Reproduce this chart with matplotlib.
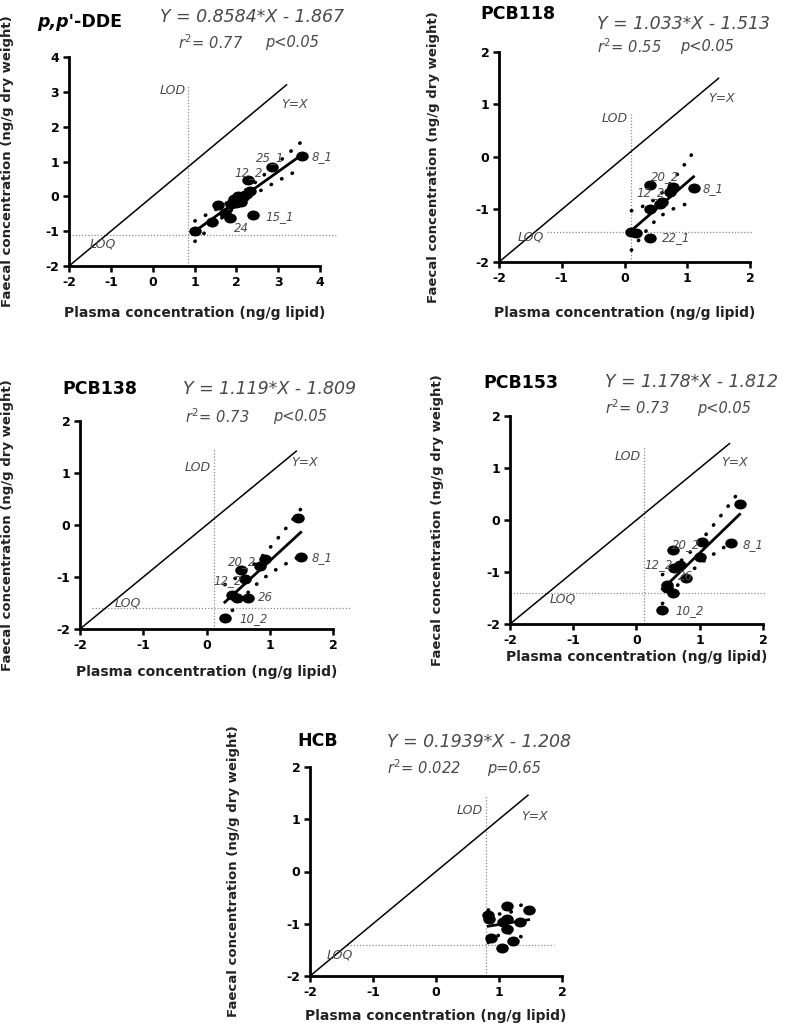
import numpy as np
import matplotlib
matplotlib.use("Agg")
import matplotlib.pyplot as plt
from matplotlib.path import Path
from matplotlib.transforms import Affine2D

plt.rcParams["axes.unicode_minus"] = False

# ---------------- data ----------------
dde_x = [3.58, 2.86, 2.29, 2.33, 1.95, 2.05, 2.15, 2.00, 2.12, 1.88, 2.20, 1.57, 1.73, 1.85, 2.41, 1.41, 1.01]
dde_y = [1.16, 0.83, 0.47, 0.16, -0.08, 0.02, -0.02, -0.20, -0.15, -0.22, 0.05, -0.25, -0.47, -0.63, -0.54, -0.73, -1.00]

pcb118_x = [1.10, 0.41, 0.77, 0.73, 0.60, 0.57, 0.40, 0.11, 0.19, 0.41]
pcb118_y = [-0.60, -0.53, -0.57, -0.66, -0.85, -0.90, -1.00, -1.42, -1.45, -1.55]

pcb138_x = [1.45, 1.49, 0.92, 0.85, 0.54, 0.61, 0.40, 0.48, 0.65, 0.29]
pcb138_y = [0.13, -0.62, -0.66, -0.79, -0.87, -1.03, -1.35, -1.41, -1.40, -1.79]

pcb153_x = [1.63, 1.49, 1.03, 0.58, 1.00, 0.69, 0.60, 0.79, 0.48, 0.48, 0.57, 0.41]
pcb153_y = [0.31, -0.45, -0.42, -0.58, -0.71, -0.87, -0.93, -1.12, -1.25, -1.31, -1.40, -1.74]

hcb_x = [0.83, 1.12, 1.47, 1.12, 1.07, 1.33, 1.13, 0.88, 1.22, 1.05, 0.84]
hcb_y = [-0.83, -0.66, -0.74, -0.90, -0.96, -0.96, -1.11, -1.27, -1.33, -1.46, -0.90]

compounds = ["p,p'-DDE", "PCB118", "PCB138", "PCB153", "HCB"]
slopes = [0.8584, 1.033, 1.119, 1.178, 0.1939]
intercepts = [-1.867, -1.513, -1.809, -1.812, -1.208]
equations = ["Y = 0.8584*X - 1.867", "Y = 1.033*X - 1.513", "Y = 1.119*X - 1.809",
             "Y = 1.178*X - 1.812", "Y = 0.1939*X - 1.208"]
r2_texts = ["$r^2$= 0.77", "$r^2$= 0.55", "$r^2$= 0.73", "$r^2$= 0.73", "$r^2$= 0.022"]
p_texts = ["p<0.05", "p<0.05", "p<0.05", "p<0.05", "p=0.65"]
lod_values = [0.85, 0.11, 0.12, 0.12, 0.80]
loq_values = [-1.12, -1.43, -1.60, -1.40, -1.41]
x_limits = [(-2, 4), (-2, 2), (-2, 2), (-2, 2), (-2, 2)]
y_limits = [(-2, 4), (-2, 2), (-2, 2), (-2, 2), (-2, 2)]
x_ticks = [[-2, -1, 0, 1, 2, 3, 4], [-2, -1, 0, 1, 2], [-2, -1, 0, 1, 2], [-2, -1, 0, 1, 2], [-2, -1, 0, 1, 2]]
y_ticks = [[-2, -1, 0, 1, 2, 3, 4], [-2, -1, 0, 1, 2], [-2, -1, 0, 1, 2], [-2, -1, 0, 1, 2], [-2, -1, 0, 1, 2]]

xs_all = [dde_x, pcb118_x, pcb138_x, pcb153_x, hcb_x]
ys_all = [dde_y, pcb118_y, pcb138_y, pcb153_y, hcb_y]

# sample-id annotations (text, x, y in data units, alignment)
point_labels = [
    [("8_1", 3.80, 1.14, "left"), ("25_1", 2.82, 1.12, "center"), ("12_2", 2.29, 0.68, "center"),
     ("15_1", 2.69, -0.57, "left"), ("24", 2.12, -0.93, "center")],
    [("8_1", 1.25, -0.60, "left"), ("20_2", 0.65, -0.37, "center"), ("12_2", 0.41, -0.68, "center"),
     ("22_1", 0.59, -1.54, "left")],
    [("8_1", 1.66, -0.62, "left"), ("20_2", 0.56, -0.71, "center"), ("12_2", 0.34, -1.06, "center"),
     ("26", 0.82, -1.40, "left"), ("10_2", 0.52, -1.79, "left")],
    [("8_1", 1.68, -0.47, "left"), ("20_2", 0.79, -0.47, "center"), ("12_2", 0.35, -0.85, "center"),
     ("26", 0.77, -1.08, "center"), ("10_2", 0.61, -1.74, "left")],
    [],
]

# ---------------- layout (pixels in an 800x1029 canvas) ----------------
W, H = 800, 1029
layout = [
    dict(ax=(69, 57, 320, 266), loq_x=(-2, 4.4), lod_top=3.2, yx_end=3.2,
         lod_lab=3.05, loq_lab=(-1.2, -1.38), yx_lab=(3.4, 2.63),
         title=(37, 22), eq=(160, 17), r2=(178, 43), p=(265, 43), xlab=313, ylab=8),
    dict(ax=(499, 52, 750, 262), loq_x=(-1.24, 2.05), lod_top=0.84, yx_end=1.5,
         lod_lab=0.73, loq_lab=(-1.5, -1.53), yx_lab=(1.55, 1.12),
         title=(480, 14), eq=(597, 24), r2=(597, 47), p=(680, 47), xlab=313, ylab=433),
    dict(ax=(80, 421, 333, 629), loq_x=(-1.81, 2.27), lod_top=1.48, yx_end=1.42,
         lod_lab=1.11, loq_lab=(-1.24, -1.5), yx_lab=(1.55, 1.21),
         title=(62, 389), eq=(183, 389), r2=(185, 417), p=(273, 417), xlab=672, ylab=8),
    dict(ax=(510, 416, 763, 624), loq_x=(-2, 2.03), lod_top=1.42, yx_end=1.47,
         lod_lab=1.22, loq_lab=(-1.16, -1.51), yx_lab=(1.55, 1.10),
         title=(483, 383), eq=(605, 382), r2=(605, 408), p=(697, 408), xlab=657, ylab=437),
    dict(ax=(310, 767, 562, 976), loq_x=(-1.42, 1.88), lod_top=1.44, yx_end=1.46,
         lod_lab=1.17, loq_lab=(-1.52, -1.60), yx_lab=(1.57, 1.06),
         title=(297, 741), eq=(387, 742), r2=(387, 768), p=(487, 768), xlab=1016, ylab=234),
]

GRAY = "#4a4a4a"
FONT = "DejaVu Sans"

def fx(px):
    return px / W

def fy(py):
    return 1 - py / H

# horizontally stretched circle marker (the reference is slightly stretched)
ell = Path.unit_circle().transformed(Affine2D().scale(1.3, 1.0))

def t95(df):
    return 1.96 + 2.5 / df + 3.0 / df ** 2

fig = plt.figure(figsize=(W / 100, H / 100), dpi=100)

for i in range(5):
    L, T, R, B = layout[i]["ax"]
    lay = layout[i]
    ax = fig.add_axes([fx(L), fy(B), (R - L) / W, (B - T) / H])
    ax.set_xlim(*x_limits[i])
    ax.set_ylim(*y_limits[i])
    ax.set_xticks(x_ticks[i])
    ax.set_yticks(y_ticks[i])
    for s in ["top", "right"]:
        ax.spines[s].set_visible(False)
    for s in ["left", "bottom"]:
        ax.spines[s].set_linewidth(2.0)
    ax.tick_params(direction="out", length=4.5, width=1.8, labelsize=9, pad=2.5)
    for lab in ax.get_xticklabels() + ax.get_yticklabels():
        lab.set_fontweight("bold")
        lab.set_family(FONT)

    x = np.asarray(xs_all[i])
    y = np.asarray(ys_all[i])
    m, c = slopes[i], intercepts[i]

    # Y = X line
    ax.plot([-2, lay["yx_end"]], [-2, lay["yx_end"]], color="black", lw=1.1, clip_on=False, zorder=2)
    # LOD / LOQ dotted guides
    ax.plot([lod_values[i], lod_values[i]], [-2, lay["lod_top"]], color="#8a8a8a", lw=0.9,
            ls=(0, (1, 1.5)), clip_on=False, zorder=1)
    ax.plot(list(lay["loq_x"]), [loq_values[i], loq_values[i]], color="#8a8a8a", lw=0.9,
            ls=(0, (1, 1.5)), clip_on=False, zorder=1)

    # regression line and 95% confidence band
    xs = np.linspace(x.min(), x.max(), 200)
    n = len(x)
    resid = y - (m * x + c)
    sres = np.sqrt((resid ** 2).sum() / (n - 2))
    se = sres * np.sqrt(1 / n + (xs - x.mean()) ** 2 / ((x - x.mean()) ** 2).sum())
    hw = t95(n - 2) * se
    ax.plot(xs, m * xs + c, color="black", lw=2.0, zorder=3, clip_on=False)
    for sign in (1, -1):
        ax.plot(xs, m * xs + c + sign * hw, color="black", lw=2.6, ls=(0, (0.1, 3.2)),
                dash_capstyle="round", zorder=3, clip_on=False)

    ax.plot(x, y, ls="none", marker=ell, ms=8, color="black", zorder=4, clip_on=False)

    # text annotations inside the axes
    ax.text(lod_values[i] - 0.05, lay["lod_lab"], "LOD", ha="right", va="center", fontsize=9,
            style="italic", color=GRAY, family=FONT)
    ax.text(lay["loq_lab"][0], lay["loq_lab"][1], "LOQ", ha="center", va="center", fontsize=9,
            style="italic", color=GRAY, family=FONT)
    ax.text(lay["yx_lab"][0], lay["yx_lab"][1], "Y=X", ha="center", va="center", fontsize=9,
            style="italic", color=GRAY, family=FONT)
    for (txt, lx, ly, ha) in point_labels[i]:
        ax.text(lx, ly, txt, ha=ha, va="center", fontsize=8.5, style="italic", color=GRAY,
                family=FONT, zorder=5)

    # texts outside the axes
    tx, ty = lay["title"]
    if i == 0:
        fig.text(fx(tx), fy(ty), "p,p'", fontsize=12.5, fontweight="bold", style="italic",
                 family=FONT, va="center", ha="left")
        fig.text(fx(74), fy(ty), "-DDE", fontsize=12.5, fontweight="bold",
                 family=FONT, va="center", ha="left")
    else:
        fig.text(fx(tx), fy(ty), compounds[i], fontsize=12.5, fontweight="bold",
                 family=FONT, va="center", ha="left")
    ex, ey = lay["eq"]
    fig.text(fx(ex), fy(ey), equations[i], fontsize=12.5, style="italic", color=GRAY,
             family=FONT, va="center", ha="left")
    rx, ry = lay["r2"]
    fig.text(fx(rx), fy(ry), r2_texts[i], fontsize=10.5, style="italic", color=GRAY,
             family=FONT, va="center", ha="left")
    px_, py_ = lay["p"]
    fig.text(fx(px_), fy(py_), p_texts[i], fontsize=10.5, style="italic", color=GRAY,
             family=FONT, va="center", ha="left")
    fig.text(fx((L + R) / 2), fy(lay["xlab"]), "Plasma concentration (ng/g lipid)",
             fontsize=10, fontweight="bold", family=FONT, va="center", ha="center", color="#222222")
    fig.text(fx(lay["ylab"]), fy((T + B) / 2), "Faecal concentration (ng/g dry weight)",
             fontsize=9.5, fontweight="bold", family=FONT, va="center", ha="center",
             rotation=90, color="#222222")

fig.savefig("out.png", dpi=100)
